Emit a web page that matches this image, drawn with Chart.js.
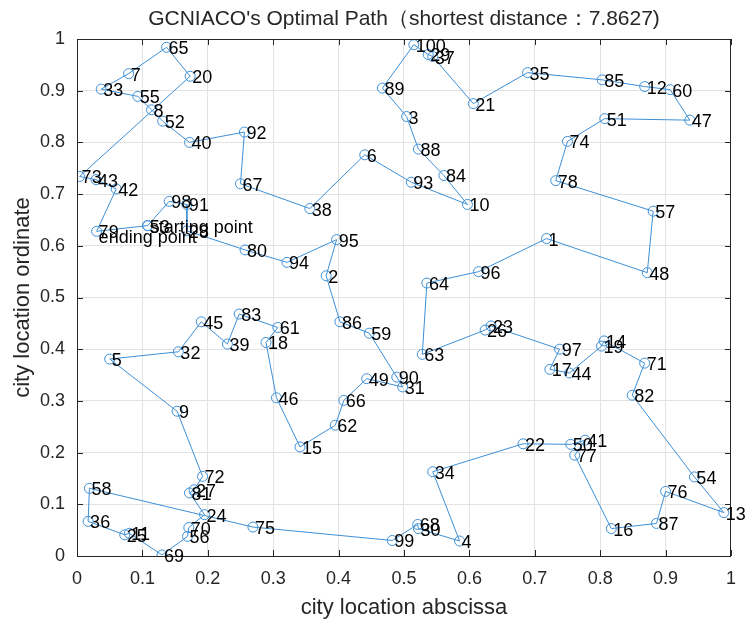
<!DOCTYPE html>
<html>
<head>
<meta charset="utf-8">
<title>GCNIACO optimal path</title>
<script src="https://cdn.jsdelivr.net/npm/chart.js@4.4.1/dist/chart.umd.min.js"></script>
<style>
  html, body { margin: 0; padding: 0; background: #fff; }
  #wrap { width: 748px; height: 620px; }
</style>
</head>
<body>
<div id="wrap"><canvas id="pathChart" width="748" height="620"></canvas></div>
<script>
// city coordinates: entry i is city number i+1
const cityX = [
  0.718, 0.381, 0.504, 0.585, 0.050, 0.440, 0.079, 0.114, 0.153, 0.597,
  0.080, 0.868, 0.989, 0.806, 0.341, 0.817, 0.723, 0.289, 0.802, 0.173,
  0.606, 0.682, 0.633, 0.195, 0.073, 0.624, 0.179, 0.168, 0.537, 0.522,
  0.498, 0.155, 0.037, 0.544, 0.689, 0.017, 0.544, 0.356, 0.230, 0.172,
  0.777, 0.060, 0.029, 0.753, 0.190, 0.305, 0.937, 0.872, 0.443, 0.755,
  0.807, 0.131, 0.108, 0.944, 0.093, 0.169, 0.881, 0.019, 0.447, 0.907,
  0.307, 0.395, 0.528, 0.535, 0.137, 0.408, 0.250, 0.521, 0.130, 0.171,
  0.868, 0.192, 0.004, 0.750, 0.269, 0.900, 0.761, 0.732, 0.030, 0.257,
  0.172, 0.849, 0.248, 0.561, 0.803, 0.402, 0.886, 0.522, 0.467, 0.489,
  0.168, 0.256, 0.511, 0.321, 0.397, 0.614, 0.738, 0.141, 0.482, 0.515
];
const cityY = [
  0.614, 0.542, 0.850, 0.029, 0.381, 0.776, 0.933, 0.863, 0.280, 0.680,
  0.044, 0.908, 0.084, 0.416, 0.211, 0.053, 0.361, 0.413, 0.406, 0.928,
  0.875, 0.217, 0.445, 0.080, 0.041, 0.437, 0.128, 0.629, 0.970, 0.053,
  0.327, 0.395, 0.903, 0.163, 0.935, 0.067, 0.966, 0.672, 0.410, 0.800,
  0.224, 0.710, 0.728, 0.354, 0.453, 0.306, 0.843, 0.548, 0.343, 0.216,
  0.846, 0.841, 0.639, 0.153, 0.889, 0.038, 0.667, 0.131, 0.431, 0.902,
  0.442, 0.253, 0.390, 0.528, 0.984, 0.301, 0.720, 0.061, 0.002, 0.055,
  0.373, 0.154, 0.734, 0.802, 0.056, 0.125, 0.195, 0.726, 0.628, 0.592,
  0.122, 0.311, 0.468, 0.736, 0.921, 0.453, 0.063, 0.787, 0.905, 0.346,
  0.680, 0.820, 0.723, 0.568, 0.612, 0.550, 0.400, 0.686, 0.030, 0.989
];

// visiting order of the best tour (closed back to the first city)
const route = [
  53, 98, 91, 28, 80, 94, 95, 2, 86, 59,
  90, 31, 49, 66, 62, 15, 46, 18, 61, 83,
  39, 45, 32, 5, 9, 72, 27, 81, 24, 70,
  56, 69, 11, 25, 36, 58, 75, 99, 68, 30,
  4, 34, 22, 50, 41, 77, 16, 87, 76, 13,
  54, 82, 71, 14, 19, 44, 17, 97, 23, 26,
  63, 64, 96, 1, 48, 57, 78, 74, 51, 47,
  60, 12, 85, 35, 21, 37, 29, 100, 89, 3,
  88, 84, 10, 93, 6, 38, 67, 92, 40, 52,
  8, 55, 33, 7, 65, 20, 73, 43, 42, 79
];

const axisTicks = [0, 0.1, 0.2, 0.3, 0.4, 0.5, 0.6, 0.7, 0.8, 0.9, 1];
const shortestDistance = 7.8627;

const FONT = "'Liberation Sans', Arial, sans-serif";
const INK = '#262626';
const BLUE = '#3d8fd6';

const pathPoints = route.concat(route[0]).map(c => ({ x: cityX[c - 1], y: cityY[c - 1] }));

// box, inward ticks, city numbers and captions
const decor = {
  id: 'decor',
  afterDatasetsDraw(chart) {
    const { ctx, chartArea: a, scales: { x, y } } = chart;
    ctx.save();

    ctx.strokeStyle = INK;
    ctx.lineWidth = 1;
    ctx.strokeRect(Math.round(a.left) + 0.5, Math.round(a.top) + 0.5,
                   Math.round(a.right - a.left) - 1, Math.round(a.bottom - a.top));
    ctx.beginPath();
    axisTicks.forEach(v => {
      const px = Math.round(x.getPixelForValue(v)) + 0.5;
      ctx.moveTo(px, a.bottom); ctx.lineTo(px, a.bottom - 6);
      ctx.moveTo(px, a.top); ctx.lineTo(px, a.top + 6);
      const py = Math.round(y.getPixelForValue(v)) + 0.5;
      ctx.moveTo(a.left, py); ctx.lineTo(a.left + 6, py);
      ctx.moveTo(a.right, py); ctx.lineTo(a.right - 6, py);
    });
    ctx.stroke();

    // city numbers
    ctx.fillStyle = '#000';
    ctx.font = '18px ' + FONT;
    ctx.textAlign = 'left';
    ctx.textBaseline = 'middle';
    cityX.forEach((cx, i) => {
      ctx.fillText(String(i + 1), x.getPixelForValue(cx) + 2, y.getPixelForValue(cityY[i]) + 2);
    });
    const s = route[0], e = route[route.length - 1];
    ctx.fillText('starting point', x.getPixelForValue(cityX[s - 1]) + 2, y.getPixelForValue(cityY[s - 1]) + 2);
    ctx.fillText('ending point', x.getPixelForValue(cityX[e - 1]) + 2, y.getPixelForValue(cityY[e - 1]) + 7);

    // title and axis names
    const midX = (a.left + a.right) / 2;
    ctx.fillStyle = INK;
    ctx.textAlign = 'center';
    ctx.font = '21px ' + FONT;
    ctx.fillText("GCNIACO's Optimal Path（shortest distance：" + shortestDistance + ")", midX, 19);
    ctx.font = '22px ' + FONT;
    ctx.fillText('city location abscissa', midX, 608);
    ctx.translate(23, (a.top + a.bottom) / 2);
    ctx.rotate(-Math.PI / 2);
    ctx.fillText('city location ordinate', 0, 0);
    ctx.restore();
  }
};

const tickFmt = v => String(Math.round(v * 10) / 10);

new Chart(document.getElementById('pathChart'), {
  type: 'scatter',
  data: {
    datasets: [{
      data: pathPoints,
      showLine: true,
      borderColor: BLUE,
      borderWidth: 1,
      tension: 0,
      pointRadius: 5,
      pointBorderWidth: 1,
      pointBorderColor: BLUE,
      pointBackgroundColor: 'rgba(0,0,0,0)'
    }]
  },
  options: {
    responsive: false,
    animation: false,
    layout: { padding: { top: 39, right: 15, left: 0, bottom: 0 } },
    plugins: { legend: { display: false }, tooltip: { enabled: false } },
    scales: {
      x: {
        type: 'linear', min: 0, max: 1,
        afterBuildTicks: s => { s.ticks = axisTicks.map(v => ({ value: v })); },
        afterFit: s => { s.height = 64; },
        grid: { color: '#e3e3e3', drawTicks: false },
        border: { display: false },
        ticks: { color: INK, font: { size: 18, family: FONT }, padding: 12, callback: tickFmt, maxRotation: 0 }
      },
      y: {
        type: 'linear', min: 0, max: 1,
        afterBuildTicks: s => { s.ticks = axisTicks.map(v => ({ value: v })); },
        afterFit: s => { s.width = 77; },
        grid: { color: '#e3e3e3', drawTicks: false },
        border: { display: false },
        ticks: { color: INK, font: { size: 18, family: FONT }, padding: 12, callback: tickFmt }
      }
    }
  },
  plugins: [decor]
});
</script>
</body>
</html>
